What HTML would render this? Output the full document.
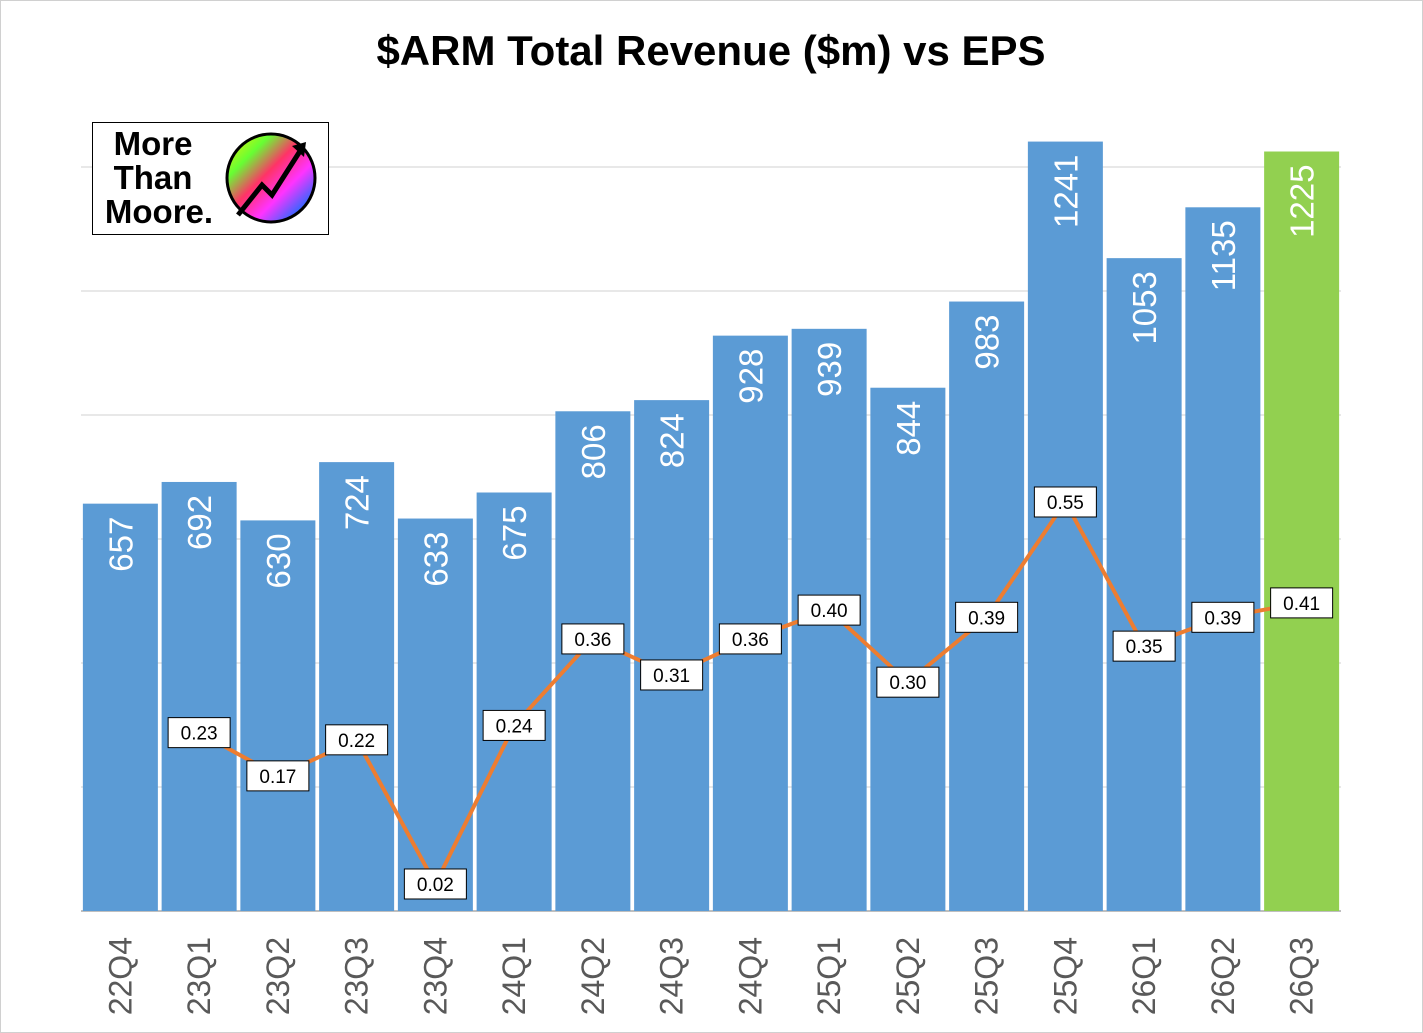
<!DOCTYPE html>
<html><head><meta charset="utf-8"><style>
html,body{margin:0;padding:0;background:#fff;}
svg{display:block;font-family:"Liberation Sans",sans-serif;}
</style></head><body>
<svg id="chart" width="1423" height="1033" viewBox="0 0 1423 1033">
<defs>
<linearGradient id="rb" x1="0" y1="0" x2="1" y2="1">
<stop offset="0" stop-color="#ffee00"/><stop offset="0.25" stop-color="#66ff33"/>
<stop offset="0.45" stop-color="#ff3366"/><stop offset="0.65" stop-color="#ff33ff"/>
<stop offset="0.85" stop-color="#3366ff"/><stop offset="1" stop-color="#00ccff"/>
</linearGradient>
</defs>
<rect x="0.5" y="0.5" width="1422" height="1032" fill="#fff" stroke="#d0d0d0"/>
<text x="711" y="65" text-anchor="middle" font-size="42" font-weight="bold" fill="#000">$ARM Total Revenue ($m) vs EPS</text>
<g id="grid"></g>
<g id="bars"></g>
<g id="line"></g>
<g id="xlabels"></g>
<g>
<rect x="92.5" y="122.5" width="236" height="112" fill="#fff" stroke="#000" stroke-width="1"/>
<text x="153" y="155" text-anchor="middle" font-size="33" font-weight="bold">More</text>
<text x="153" y="189" text-anchor="middle" font-size="33" font-weight="bold">Than</text>
<text x="159" y="223" text-anchor="middle" font-size="33" font-weight="bold">Moore.</text>
<circle cx="271" cy="178" r="44" fill="url(#rb)" stroke="#000" stroke-width="3"/>
<path d="M238 215 L262 185 L272 195 L302 148" fill="none" stroke="#000" stroke-width="5"/>
<path d="M292 146 L306 142 L304 157 Z" fill="#000"/>
</g>
</svg>
<script>
const categories=["22Q4","23Q1","23Q2","23Q3","23Q4","24Q1","24Q2","24Q3","24Q4","25Q1","25Q2","25Q3","25Q4","26Q1","26Q2","26Q3"];
const revenue=[657,692,630,724,633,675,806,824,928,939,844,983,1241,1053,1135,1225];
const eps=[null,0.23,0.17,0.22,0.02,0.24,0.36,0.31,0.36,0.40,0.30,0.39,0.55,0.35,0.39,0.41];
const gridTicks=[0,200,400,600,800,1000,1200];
const NS="http://www.w3.org/2000/svg";
const x0=81,slot=78.75,bw=75;
function yRev(v){return 911-v*0.62;}
function yEps(v){return 898.4-v*720.75;}
function xc(i){return x0+slot*i+slot/2;}
function mk(t,a,p){const e=document.createElementNS(NS,t);for(const k in a)e.setAttribute(k,a[k]);p.appendChild(e);return e;}
const grid=document.getElementById('grid');
gridTicks.forEach(t=>{const l=mk('line',{x1:81,x2:1341,y1:yRev(t),y2:yRev(t),stroke:t===0?'#bfbfbf':'#d9d9d9','stroke-width':t===0?2:1.3},grid);

});
const bars=document.getElementById('bars');
revenue.forEach((v,i)=>{const last=i===revenue.length-1;
const r=mk('rect',{x:xc(i)-bw/2,y:yRev(v),width:bw,height:911-yRev(v),fill:last?'#92d050':'#5b9bd5'},bars);


const tx=xc(i)+12,ty=yRev(v)+13;
const t=mk('text',{x:tx,y:ty,'text-anchor':'end',transform:`rotate(-90 ${tx} ${ty})`,'font-size':33,fill:'#fff'},bars);
t.textContent=v;

});
const lg=document.getElementById('line');
let pts=[];eps.forEach((v,i)=>{if(v!==null)pts.push(xc(i)+','+yEps(v));});
const pl=mk('polyline',{points:pts.join(' '),fill:'none',stroke:'#ed7d31','stroke-width':4,'stroke-linejoin':'round'},lg);


eps.forEach((v,i)=>{if(v===null)return;
const b=mk('rect',{x:xc(i)-31,y:yEps(v)-15,width:62,height:30,fill:'#fff',stroke:'#000','stroke-width':1},lg);


const t=mk('text',{x:xc(i),y:yEps(v)+7,'text-anchor':'middle','font-size':19,fill:'#000'},lg);
t.textContent=v.toFixed(2);

});
const xl=document.getElementById('xlabels');
categories.forEach((c,i)=>{const tx=xc(i)+11,ty=937;
const t=mk('text',{x:tx,y:ty,'text-anchor':'end',transform:`rotate(-90 ${tx} ${ty})`,'font-size':32,fill:'#595959'},xl);
t.textContent=c;

});
</script>
</body></html>
